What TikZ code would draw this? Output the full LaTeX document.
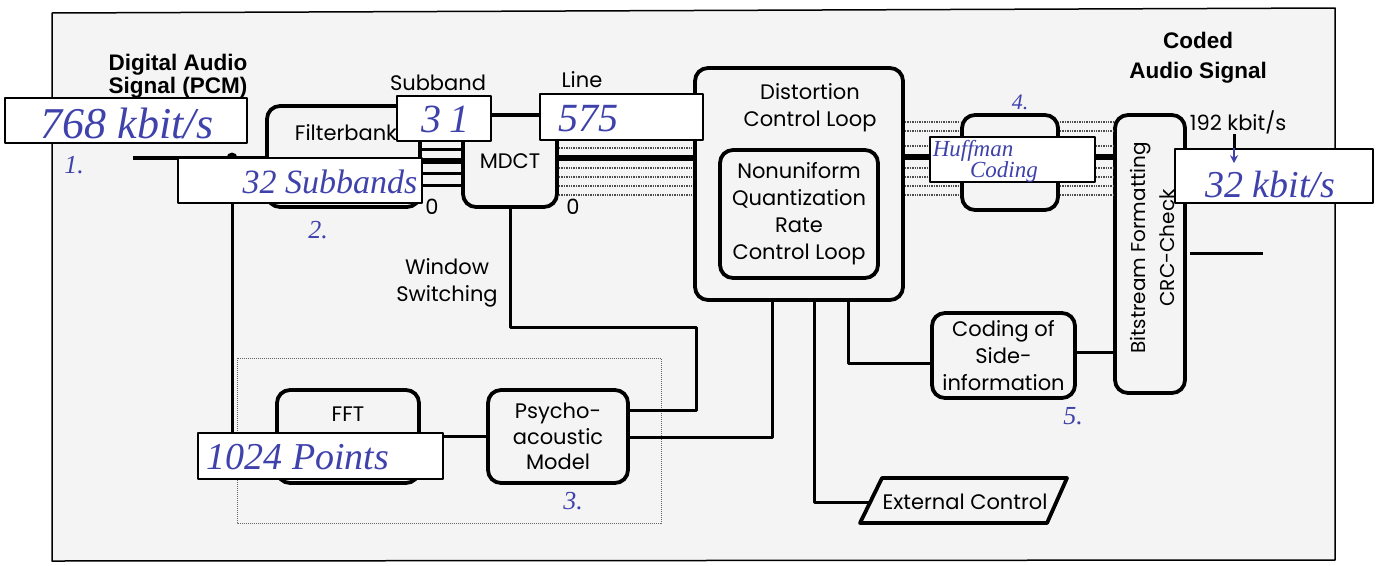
\documentclass[tikz,border=0pt]{standalone}
\usepackage{fontspec}
\setmainfont{Poppins}
\newfontfamily\arialfont{Liberation Sans}
\newfontfamily\handfont{Liberation Serif}
\usetikzlibrary{calc,arrows.meta}
\definecolor{bgpaper}{gray}{0.955}
\definecolor{handblue}{RGB}{62,66,170}
\newcommand\mylabfont{\fontsize{21}{27}\selectfont}
\tikzset{
 rbox/.style={draw, line width=3.8pt, rounded corners=13pt, fill=bgpaper, inner sep=0pt, align=center, font=\mylabfont},
 hbox/.style={draw, line width=1.6pt, fill=white, inner sep=0pt},
 hw/.style={text=handblue, inner sep=0pt, font=\handfont\itshape\fontsize{#1}{#1}\selectfont},
 lab/.style={inner sep=0pt, align=center, font=\mylabfont},
 blab/.style={inner sep=0pt, align=center, font=\arialfont\bfseries\fontsize{22.5}{23}\selectfont},
 wire/.style={line width=3pt},
 bus/.style={line width=6pt},
 fine/.style={line width=1.4pt, densely dotted, black!70},
}
\begin{document}
\begin{tikzpicture}[x=1pt,y=-1pt,line join=round]
\useasboundingbox (0,0) rectangle (1380,565);
\fill[white] (0,0) rectangle (1380,565);
\filldraw[fill=bgpaper, line width=1.5pt] (52,13) -- (1335,8) -- (1335,560) -- (52,561) -- cycle;

% dotted grouping frame
\draw[line width=1pt, densely dotted, black!60] (237,358) rectangle (661,523);

% blocks
\node[rbox, minimum width=153pt, minimum height=101pt] (fb) at (343.5,156.5) {};
\node[lab] (fbt) at (346,133) {Filterbank};
\node[rbox, minimum width=94pt, minimum height=92pt] (mdct) at (510,161) {MDCT};
\node[rbox, minimum width=208pt, minimum height=232pt] (dcl) at (799,184) {};
\node[lab] (dclt) at (810,107.5) {Distortion\\Control Loop};
\node[rbox, minimum width=158pt, minimum height=128pt] (ql) at (799,214) {Nonuniform\\Quantization\\Rate\\Control Loop};
\node[rbox, minimum width=96pt, minimum height=95pt] (huff) at (1010,162.5) {};
\node[rbox, minimum width=70pt, minimum height=278pt] (bs) at (1150,254) {};
\node[lab, rotate=90, font=\fontsize{20}{29}\selectfont] (bst) at (1152,248) {Bitstream Formatting\\CRC-Check};
\node[rbox, minimum width=143pt, minimum height=85pt] (csi) at (1003.5,355.5) {Coding of\\Side-\\information};
\node[rbox, minimum width=142pt, minimum height=93pt] (fft) at (348,436.5) {};
\node[lab] (fftt) at (348,414) {FFT};
\node[rbox, minimum width=140pt, minimum height=93pt, font=\fontsize{21}{25.5}\selectfont] (psy) at (558,436.5) {Psycho-\\acoustic\\Model};
\draw[line width=3.8pt, fill=bgpaper] (882,478) -- (1067,478) -- (1047,523) -- (860,523) -- cycle;
\node[lab] (ext) at (965,502) {External Control};
\coordinate (extin) at (870,502);

% labels
\node[blab] (pcm) at (178,76) {Digital Audio\\Signal (PCM)};
\node[blab, font=\arialfont\bfseries\fontsize{22.5}{30}\selectfont] (coded) at (1198,58) {Coded\\Audio Signal};
\node[lab] (sbl) at (438,83) {Subband};
\node[lab] (lnl) at (582,80) {Line};
\node[lab] (z1) at (432,207) {0};
\node[lab] (z2) at (573,207) {0};
\node[lab] (wsl) at (447,283) {Window\\Switching};
\node[lab] (r192) at (1238,122) {192 kbit/s};

% connectors
\coordinate (inp) at (133,158);
\coordinate (jn) at (232,158);
\draw[line width=4pt] (inp) -- (fb.west |- inp);
\fill (jn) circle (5.5pt);
\draw[wire] (jn) |- (fft.west);
\draw[wire] (fft.east) -- (psy.west);

\foreach \yy in {149,173,185} \draw[wire] (fb.east |- 0,\yy) -- (mdct.west |- 0,\yy);
\draw[bus] (fb.east |- 0,161) -- (mdct.west |- 0,161);

\foreach \yy in {148,168,177,186,195} \draw[fine] (mdct.east |- 0,\yy) -- (dcl.west |- 0,\yy);
\draw[bus] (mdct.east |- 0,158) -- (dcl.west |- 0,158);

\foreach \yy in {122,131,146,168,177,186,195} {
  \draw[fine] (dcl.east |- 0,\yy) -- (huff.west |- 0,\yy);
  \draw[fine] (huff.east |- 0,\yy) -- (bs.west |- 0,\yy);
}
\draw[bus] (dcl.east |- 0,157) -- (huff.west |- 0,157);
\draw[bus] (huff.east |- 0,157) -- (bs.west |- 0,157);

\coordinate (wsa) at (696,327);
\draw[wire] (mdct.south) |- (wsa) |- (psy.east |- 0,410);
\draw[wire] (psy.east |- 0,437) -| (dcl.south -| 772,0);
\draw[wire] (dcl.south -| 848,0) |- (csi.west |- 0,363);
\draw[wire] (dcl.south -| 814,0) |- (extin);
\draw[wire] (csi.east |- 0,352) -- (bs.west |- 0,352);

\coordinate (outa) at (1190,253);
\coordinate (outb) at (1263,253);
\draw[wire] (outa) -- (outb);

% handwritten overlays
\node[hbox, minimum width=242pt, minimum height=45pt] (h768) at (126,120.5) {};
\node[hbox, minimum width=94pt, minimum height=45pt] (h31) at (444,118.5) {};
\node[hbox, minimum width=163pt, minimum height=46pt] (h575) at (621.5,117) {};
\node[hbox, minimum width=244pt, minimum height=45pt] (h32sb) at (300,180.5) {};
\node[hbox, minimum width=165pt, minimum height=45pt] (hhuff) at (1012.5,159.5) {};
\node[hbox, minimum width=198pt, minimum height=54pt] (h32k) at (1274,176) {};
\node[hbox, minimum width=245pt, minimum height=46pt] (h1024) at (320.5,456) {};

\draw[wire] (r192.south -| 1234,0) -- (h32k.north -| 1234,0);
\draw[handblue, line width=2pt, -{Stealth[length=8pt,width=8pt]}] (h32k.north -| 1234,0) -- ++(0,15);

\node[hw=44] (t768) at (127,123) {768 kbit/s};
\node[hw=40] (t31) at (445,119) {3\hspace{8pt}1};
\node[hw=40] (t575) at (588,119) {575};
\node[hw=34] (t32sb) at (330,182) {32 Subbands};
\node[hw=23] (thuf) at (973,151) {Huffman};
\node[hw=23] (tcod) at (1004,172) {Coding};
\node[hw=38] (t32k) at (1270,184) {32 kbit/s};
\node[hw=38] (t1024) at (298,457) {1024 Points};

\node[hw=26] (n1) at (74,165) {1.};
\node[hw=26] (n2) at (318,230) {2.};
\node[hw=26] (n3) at (573,501) {3.};
\node[hw=22] (n4) at (1020,102) {4.};
\node[hw=26] (n5) at (1073,416) {5.};
\end{tikzpicture}
\end{document}
